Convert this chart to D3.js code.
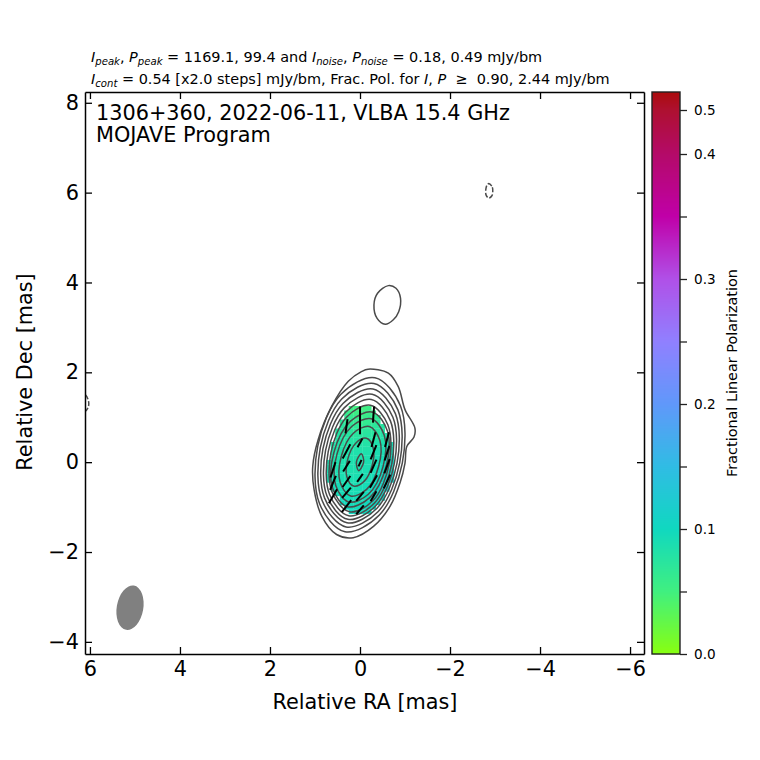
<!DOCTYPE html>
<html lang="en">
<head>
<meta charset="utf-8">
<style>
  body { margin: 0; background: #fff; }
  text { font-family: "DejaVu Sans", sans-serif; fill: #000; }
</style>
</head>
<body>
<svg id="mysvg" width="760" height="760"></svg>
<script src="https://cdn.jsdelivr.net/npm/d3@7"></script>
<script>
// axis ticks
var xTicks = [6, 4, 2, 0, -2, -4, -6];
var yTicks = [8, 6, 4, 2, 0, -2, -4];
var barTicks = [0, 0.05, 0.1, 0.15, 0.2, 0.25, 0.3, 0.35, 0.4, 0.5];
var barLabels = [0, 0.1, 0.2, 0.3, 0.4, 0.5];

// colour map of the fractional polarization
var cmapValues = [0, 0.05, 0.1, 0.15, 0.2, 0.25, 0.3, 0.35, 0.4, 0.5, 0.52];
var cmapColors = ["#88ff10", "#40f080", "#10d8c0", "#30bce4", "#6098fa", "#9080ff", "#b050e8", "#c000a8", "#b40a68", "#ae1030", "#aa0a00"];

// contours, [RA, Dec] in mas
var contour1 = [[-0.18,2.07],[-0.63,1.98],[-0.85,1.68],[-1.0,1.17],[-1.22,0.76],[-1.2,0.56],[-1.04,0.35],[-1.0,-0.02],[-0.89,-0.46],[-0.67,-0.98],[-0.3,-1.43],[0.15,-1.68],[0.52,-1.61],[0.85,-1.2],[1.02,-0.61],[1.05,-0.09],[0.93,0.5],[0.63,1.24],[0.26,1.8],[-0.04,2.02]];
var contour2 = [[-0.333,1.88],[0.43,1.507],[0.941,0.347],[0.9,-0.919],[0.333,-1.55],[-0.43,-1.177],[-0.941,-0.017],[-0.9,1.249]];
var contour3 = [[-0.31,1.752],[0.406,1.406],[0.882,0.326],[0.842,-0.854],[0.31,-1.442],[-0.406,-1.096],[-0.882,-0.016],[-0.842,1.164]];
var contour4 = [[-0.289,1.63],[0.378,1.306],[0.823,0.3],[0.786,-0.8],[0.289,-1.35],[-0.378,-1.026],[-0.823,-0.02],[-0.786,1.08]];
var contour5 = [[-0.27,1.512],[0.351,1.209],[0.764,0.268],[0.731,-0.759],[0.27,-1.272],[-0.351,-0.969],[-0.764,-0.028],[-0.731,0.999]];
var contour6 = [[-0.251,1.394],[0.322,1.111],[0.706,0.237],[0.676,-0.719],[0.251,-1.194],[-0.322,-0.911],[-0.706,-0.037],[-0.676,0.919]];
var contour7 = [[-0.23,1.266],[0.295,1.007],[0.647,0.205],[0.619,-0.671],[0.23,-1.106],[-0.295,-0.847],[-0.647,-0.045],[-0.619,0.831]];
var contour8 = [[-0.283,1.113],[0.21,0.914],[0.58,0.216],[0.61,-0.574],[0.283,-0.993],[-0.21,-0.794],[-0.58,-0.096],[-0.61,0.694]];
var contour9 = [[-0.25,0.967],[0.185,0.794],[0.512,0.178],[0.539,-0.518],[0.25,-0.887],[-0.185,-0.714],[-0.512,-0.098],[-0.539,0.598]];
var contour10 = [[-0.208,0.793],[0.147,0.645],[0.415,0.132],[0.441,-0.447],[0.208,-0.753],[-0.147,-0.605],[-0.415,-0.092],[-0.441,0.487]];
var contour11 = [[-0.143,0.531],[0.09,0.428],[0.27,0.073],[0.292,-0.324],[0.143,-0.531],[-0.09,-0.428],[-0.27,-0.073],[-0.292,0.324]];
var contour12 = [[-0.03,0.19],[0.08,0.0],[0.03,-0.19],[-0.08,0.0]];
var island = [[-0.63,3.93],[-0.8,3.87],[-0.9,3.65],[-0.86,3.35],[-0.74,3.17],[-0.56,3.07],[-0.38,3.2],[-0.31,3.5],[-0.39,3.76]];
var negative1 = [[-2.87,6.2],[-2.94,6.12],[-2.95,6.03],[-2.93,5.93],[-2.86,5.88],[-2.8,5.95],[-2.8,6.1],[-2.83,6.18]];
var negative2 = [[6.25,1.55],[6.1,1.5],[6.03,1.35],[6.04,1.22],[6.12,1.12],[6.25,1.08]];
var solidContours = [contour1, contour2, contour3, contour4, contour5, contour6, contour7, contour8, contour9, contour10, contour11, contour12, island];
var dashedContours = [negative1, negative2];

// restoring beam, mas and degrees
var beamRA = 5.11, beamDec = -3.24, beamMajor = 1.0, beamMinor = 0.59, beamPA = -10;

// fractional polarization cells, percent, one row per Dec
var polDec = [1.2, 1.1, 1.0, 0.9, 0.8, 0.7, 0.6, 0.5, 0.4, 0.3, 0.2, 0.1, 0, -0.1, -0.2, -0.3, -0.4, -0.5, -0.6, -0.7, -0.8, -0.9, -1.0, -1.1];
var polStart = [0.2, 0.3, 0.3, 0.4, 0.4, 0.5, 0.5, 0.5, 0.6, 0.6, 0.6, 0.6, 0.7, 0.7, 0.7, 0.7, 0.7, 0.6, 0.6, 0.5, 0.4, 0.4, 0.3, 0.2];
var polValues = [
  [5.4,5.2,5.0,5.2,5.4],
  [6.0,5.6,5.4,5.2,5.4,5.6,6.0],
  [6.6,6.2,6.0,5.8,5.8,6.0,6.2,6.6],
  [7.0,6.8,6.6,6.4,6.2,6.2,6.4,6.6,7.0],
  [7.4,7.2,7.0,6.8,6.6,6.6,6.8,7.0,7.2,7.6],
  [7.6,7.4,7.4,7.2,7.0,7.0,7.2,7.2,7.4,7.6,7.8],
  [7.8,7.8,7.6,7.6,7.4,7.4,7.4,7.6,7.6,7.8,8.0,8.2],
  [8.0,8.0,7.8,7.8,7.8,7.6,7.6,7.8,7.8,8.0,8.2,8.4],
  [8.2,8.2,8.0,8.0,8.0,8.0,8.0,8.0,8.0,8.2,8.4,8.6,9.0,9.2],
  [8.2,8.2,8.2,8.2,8.2,8.2,8.2,8.2,8.2,8.4,8.6,8.8,9.2,9.4],
  [8.4,8.4,8.4,8.4,8.4,8.4,8.4,8.4,8.4,8.6,8.8,9.0,9.4,9.6],
  [8.4,8.4,8.4,8.4,8.4,8.4,8.4,8.4,8.6,8.8,9.0,9.2,9.6,10.0],
  [8.8,8.6,8.6,8.6,8.6,8.6,8.6,8.6,8.6,8.8,9.0,9.2,9.6,10.0,10.4],
  [8.8,8.8,8.6,8.6,8.6,8.6,8.6,8.6,8.8,8.8,9.0,9.4,9.8,10.2,10.6],
  [9.0,8.8,8.8,8.8,8.6,8.6,8.6,8.8,8.8,9.0,9.2,9.6,10.0,10.4,10.8],
  [9.0,9.0,8.8,8.8,8.8,8.8,8.8,8.8,9.0,9.0,9.4,9.8,10.2,10.6,11.0],
  [9.2,9.0,9.0,9.0,8.8,8.8,8.8,9.0,9.0,9.2,9.6,10.0,10.4,11.0,11.4],
  [9.2,9.2,9.0,9.0,9.0,9.0,9.0,9.2,9.4,9.8,10.2,10.8,11.2],
  [9.4,9.2,9.2,9.2,9.0,9.0,9.2,9.4,9.6,10.0,10.4,11.0,11.4],
  [9.4,9.4,9.2,9.2,9.2,9.2,9.4,9.6,10.0,10.4,10.8],
  [9.6,9.4,9.4,9.4,9.4,9.4,9.6,9.8,10.2,10.6],
  [9.8,9.6,9.4,9.4,9.4,9.6,9.8,10.0,10.4],
  [10.0,9.8,9.6,9.6,9.6,9.8,10.0],
  [10.0,9.8,9.8,9.8,10.0]
];

// EVPA ticks, RA, Dec, length in mas, angle in degrees
var evpaRA = [0, -0.3, 0.3, 0, -0.3, -0.6, 0, 0.3, -0.3, -0.6, 0.3, 0, -0.3, -0.6, 0.6, 0, 0.3, -0.3, -0.6, 0.6, 0.6, 0.3, 0, -0.3, 0.3, 0];
var evpaDec = [1.06, 1.06, 0.8, 0.8, 0.5, 0.5, 0.43, 0.24, 0.22, 0.2, -0.09, -0.02, -0.09, -0.09, -0.17, -0.35, -0.43, -0.43, -0.43, -0.46, -0.76, -0.68, -0.76, -0.76, -0.98, -1.06];
var evpaLen = [0.36, 0.36, 0.32, 0.36, 0.34, 0.34, 0.22, 0.36, 0.34, 0.34, 0.28, 0.16, 0.32, 0.34, 0.36, 0.22, 0.3, 0.32, 0.34, 0.34, 0.36, 0.3, 0.26, 0.26, 0.34, 0.26];
var evpaAngle = [0, -4, -8, 0, -15, -15, -30, -28, -22, -18, -32, -25, -24, -20, -18, -35, -35, -30, -25, -22, -30, -40, -40, -30, -38, -40];

var svg = d3.select("#mysvg");
var left = 85, right = 644, top_ = 92, bottom = 654;

var x = d3.scaleLinear().domain([6.11, -6.31]).range([left, right]);
var y = d3.scaleLinear().domain([8.24, -4.27]).range([top_, bottom]);
var colour = d3.scaleLinear().domain(cmapValues).range(cmapColors);

svg.append("defs").append("clipPath").attr("id", "plotclip")
    .append("rect")
    .attr("x", left).attr("y", top_)
    .attr("width", right - left).attr("height", bottom - top_);

var plot = svg.append("g").attr("clip-path", "url(#plotclip)");

// polarization cells
polDec.forEach(function(dec, i){
    plot.selectAll(null)
        .data(polValues[i])
        .enter()
        .append("rect")
        .attr("x", function(d, j){ return x(polStart[i] - j * 0.1 + 0.05); })
        .attr("y", y(dec + 0.05))
        .attr("width", x(0) - x(0.1) + 0.3)
        .attr("height", y(0) - y(0.1) + 0.3)
        .attr("fill", function(d){ return colour(d / 100); });
});

var lineFunction = d3.line()
    .x(function(d){ return x(d[0]); })
    .y(function(d){ return y(d[1]); })
    .curve(d3.curveCatmullRomClosed);

plot.selectAll(".solid")
    .data(solidContours)
    .enter()
    .append("path")
    .attr("class", "solid")
    .attr("d", lineFunction)
    .attr("fill", "none")
    .attr("stroke", "#4a4a4a")
    .attr("stroke-width", 1.5);

plot.selectAll(".dashed")
    .data(dashedContours)
    .enter()
    .append("path")
    .attr("class", "dashed")
    .attr("d", lineFunction)
    .attr("fill", "none")
    .attr("stroke", "#4a4a4a")
    .attr("stroke-width", 1.5)
    .attr("stroke-dasharray", "5,2");

// EVPA ticks
plot.selectAll(".evpa")
    .data(evpaRA)
    .enter()
    .append("line")
    .attr("class", "evpa")
    .attr("x1", function(d, i){ return x(d + evpaLen[i] / 2 * Math.sin(evpaAngle[i] * Math.PI / 180)); })
    .attr("y1", function(d, i){ return y(evpaDec[i] + evpaLen[i] / 2 * Math.cos(evpaAngle[i] * Math.PI / 180)); })
    .attr("x2", function(d, i){ return x(d - evpaLen[i] / 2 * Math.sin(evpaAngle[i] * Math.PI / 180)); })
    .attr("y2", function(d, i){ return y(evpaDec[i] - evpaLen[i] / 2 * Math.cos(evpaAngle[i] * Math.PI / 180)); })
    .attr("stroke", "#000")
    .attr("stroke-width", 2);

// beam
plot.append("ellipse")
    .attr("cx", x(beamRA))
    .attr("cy", y(beamDec))
    .attr("rx", (x(0) - x(beamMinor)) / 2)
    .attr("ry", (y(0) - y(beamMajor)) / 2)
    .attr("transform", "rotate(" + (-beamPA) + "," + x(beamRA) + "," + y(beamDec) + ")")
    .attr("fill", "#808080");

// axes, ticks point inward on all sides
function fmt(d){ return String(d).replace("-", "\u2212"); }

function styleAxis(g){
    g.selectAll(".domain").attr("stroke", "#000").attr("stroke-width", 1.5);
    g.selectAll(".tick line").attr("stroke", "#000").attr("stroke-width", 1.3);
    g.selectAll(".tick text").attr("font-family", "DejaVu Sans").attr("font-size", 20.8).attr("fill", "#000");
}

svg.append("g").attr("transform", "translate(0," + bottom + ")")
    .call(d3.axisBottom(x).tickValues(xTicks).tickFormat(fmt).tickSize(-7).tickSizeOuter(0).tickPadding(7))
    .call(styleAxis);
svg.append("g").attr("transform", "translate(0," + top_ + ")")
    .call(d3.axisTop(x).tickValues(xTicks).tickFormat("").tickSize(-7).tickSizeOuter(0))
    .call(styleAxis);
svg.append("g").attr("transform", "translate(" + left + ",0)")
    .call(d3.axisLeft(y).tickValues(yTicks).tickFormat(fmt).tickSize(-7).tickSizeOuter(0).tickPadding(6))
    .call(styleAxis);
svg.append("g").attr("transform", "translate(" + right + ",0)")
    .call(d3.axisRight(y).tickValues(yTicks).tickFormat("").tickSize(-7).tickSizeOuter(0))
    .call(styleAxis);

svg.append("text").attr("x", 365).attr("y", 709).attr("text-anchor", "middle")
    .attr("font-size", 20.8).text("Relative RA [mas]");
svg.append("text").attr("transform", "translate(32,372) rotate(-90)").attr("text-anchor", "middle")
    .attr("font-size", 20.8).text("Relative Dec [mas]");

svg.append("text").attr("x", 96).attr("y", 120).attr("font-size", 20.8)
    .text("1306+360, 2022-06-11, VLBA 15.4 GHz");
svg.append("text").attr("x", 96).attr("y", 142).attr("font-size", 20.8)
    .text("MOJAVE Program");

// header lines with math style parts
function mathLine(yPos, parts){
    var t = svg.append("text").attr("x", 91).attr("y", yPos).attr("font-size", 14.45).attr("xml:space", "preserve");
    parts.forEach(function(p){
        var s = t.append("tspan").text(p[0]);
        if(p[1] == "i"){ s.attr("font-style", "italic"); }
        if(p[1] == "s"){
            s.attr("font-style", "italic").attr("font-size", 10.1).attr("dy", 2.5);
        }
        if(p[2]){ s.attr("dy", p[2]); }
    });
}

mathLine(62, [["I","i"],["peak","s"],[", ",0,-2.5],["P","i"],["peak","s"],[" = 1169.1, 99.4 and ",0,-2.5],["I","i"],["noise","s"],[", ",0,-2.5],["P","i"],["noise","s"],[" = 0.18, 0.49 mJy/bm",0,-2.5]]);
mathLine(84, [["I","i"],["cont","s"],[" = 0.54 [x2.0 steps] mJy/bm, Frac. Pol. for ",0,-2.5],["I","i"],[", "],["P","i"],["  \u2265  0.90, 2.44 mJy/bm"]]);

// colorbar
var barLeft = 652, barRight = 680;
var bar = d3.scaleLinear().domain([0, 0.4, 0.5, 0.515]).range([bottom, 154, 110, top_]);

svg.append("g").selectAll("rect")
    .data(d3.range(top_, bottom))
    .enter()
    .append("rect")
    .attr("x", barLeft)
    .attr("y", function(d){ return d; })
    .attr("width", barRight - barLeft)
    .attr("height", 1.2)
    .attr("fill", function(d){ return colour(bar.invert(d + 0.5)); });

svg.append("rect")
    .attr("x", barLeft).attr("y", top_)
    .attr("width", barRight - barLeft).attr("height", bottom - top_)
    .attr("fill", "none").attr("stroke", "#222").attr("stroke-width", 1.4);

var barAxis = svg.append("g").attr("transform", "translate(" + barRight + ",0)")
    .call(d3.axisRight(bar).tickValues(barTicks)
        .tickFormat(function(d){ return barLabels.indexOf(d) >= 0 ? d.toFixed(1) : ""; })
        .tickSize(7).tickSizeOuter(0).tickPadding(7));
barAxis.select(".domain").remove();
barAxis.selectAll(".tick line").attr("stroke", "#222").attr("stroke-width", 1.3);
barAxis.selectAll(".tick text").attr("font-family", "DejaVu Sans").attr("font-size", 13.6).attr("fill", "#000");

svg.append("text").attr("transform", "translate(737,373) rotate(-90)").attr("text-anchor", "middle")
    .attr("font-size", 14.4).text("Fractional Linear Polarization");
</script>
</body>
</html>
